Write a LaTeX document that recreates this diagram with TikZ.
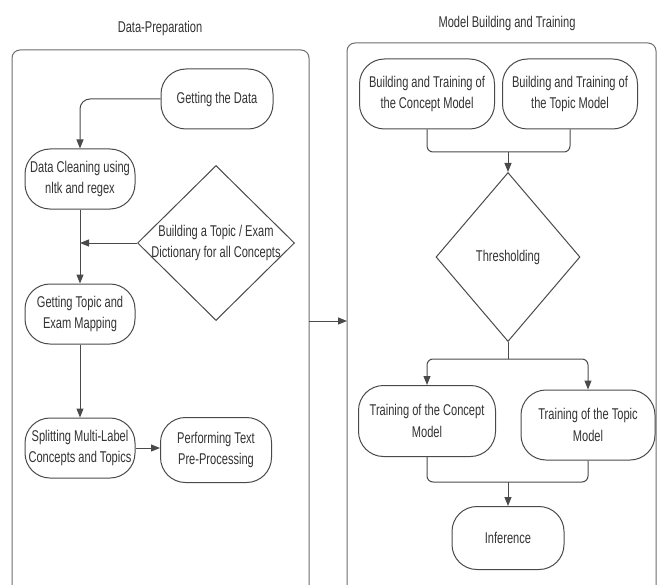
\documentclass[tikz,border=0pt]{standalone}
\usepackage{fontspec}
\setmainfont{Liberation Sans}[FakeStretch=0.71]
\usetikzlibrary{arrows.meta,shapes.geometric}
\definecolor{txt}{HTML}{333333}
\definecolor{ln}{HTML}{4A4A4A}
\begin{document}
\begin{tikzpicture}[x=1pt,y=-1pt,
  every node/.style={font=\fontsize{15.6}{21.5}\selectfont, text=txt},
  box/.style={draw=ln, line width=1pt, rounded corners=25pt, align=center, inner sep=0pt},
  dia/.style={draw=ln, line width=1pt, diamond, inner sep=0pt},
  frame/.style={draw=ln!80, line width=1pt, rounded corners=8pt},
  con/.style={draw=ln, line width=1pt, rounded corners=6pt},
  arr/.style={con, -{Triangle[length=9pt,width=7pt]}}]
\useasboundingbox[fill=white] (0,0) rectangle (660,585);

% containers
\draw[frame] (12,585) -- (12,50) -- (309,50) -- (309,585);
\draw[frame] (347,585) -- (347,43) -- (656,43) -- (656,585);
\node (t1) at (160,28) {Data-Preparation};
\node (t2) at (507,23) {Model Building and Training};
\coordinate (lbr) at (309,321);
\coordinate (rbl) at (347,321);

% left nodes
\node[box, minimum width=112pt, minimum height=60pt] (gd) at (217,99) {Getting the Data};
\node[box, minimum width=110pt, minimum height=60pt] (dc) at (80,179) {Data Cleaning using\\nltk and regex};
\node[dia, minimum width=157pt, minimum height=155pt,
  label={[align=center, text=txt]center:Building a Topic / Exam\\Dictionary for all Concepts}] (dd) at (216,243) {};
\node[box, minimum width=110pt, minimum height=60pt] (gt) at (80,314) {Getting Topic and\\Exam Mapping};
\node[box, minimum width=110pt, minimum height=60pt] (sp) at (80,448) {Splitting Multi-Label\\Concepts and Topics};
\node[box, minimum width=111pt, minimum height=65pt] (pp) at (216,450) {Performing Text\\Pre-Processing};

% right nodes
\node[box, minimum width=135pt, minimum height=70pt] (bc) at (427,94) {Building and Training of\\the Concept Model};
\node[box, minimum width=135pt, minimum height=70pt] (bt) at (570,94) {Building and Training of\\the Topic Model};
\node[dia, minimum width=144pt, minimum height=169pt,
  label={[text=txt]center:Thresholding}] (th) at (508,257) {};
\node[box, minimum width=137pt, minimum height=71pt] (tc) at (427,421) {Training of the Concept\\Model};
\node[box, minimum width=134pt, minimum height=70pt] (tt) at (588,425) {Training of the Topic\\Model};
\node[box, minimum width=112pt, minimum height=63pt] (inf) at (508,538) {Inference};

% left connectors
\draw[arr, rounded corners=10pt] (gd.west) -| (dc.north);
\draw[arr] (dc.south) -- (gt.north);
\draw[arr] (dd.west) -- (dd.west -| dc.south);
\draw[arr] (gt.south) -- (sp.north);
\draw[arr] (sp.east) -- (sp.east -| pp.west);

% between containers
\draw[arr] (lbr) -- (rbl);

% right connectors
\coordinate (m1) at (508,152);
\draw[con] (bc.south) |- (m1) -| (bt.south);
\draw[arr] (m1) -- (th.north);
\coordinate (s1) at (508,359);
\draw[con] (th.south) -- (s1);
\draw[arr] (s1) -| (tc.north);
\draw[arr] (s1) -| (tt.north);
\coordinate (m2) at (508,482);
\draw[con] (tc.south) |- (m2) -| (tt.south);
\draw[arr] (m2) -- (inf.north);
\end{tikzpicture}
\end{document}
